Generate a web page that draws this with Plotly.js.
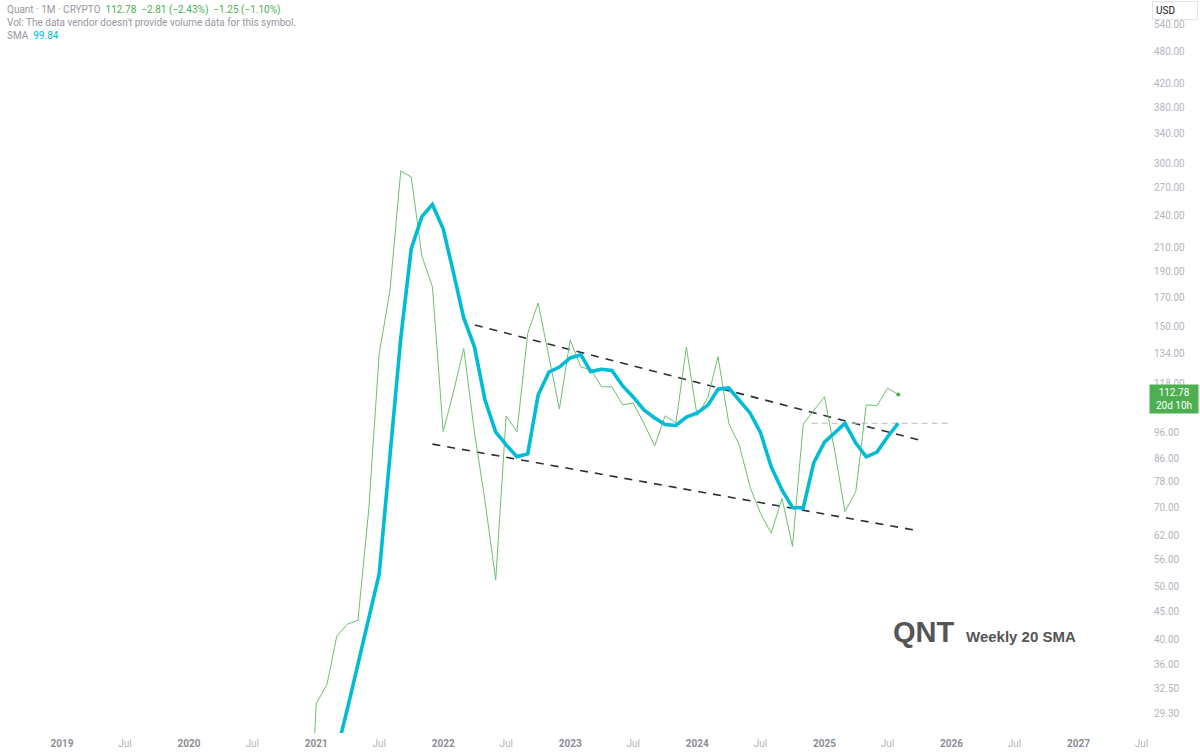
<!DOCTYPE html>
<html>
<head>
<meta charset="utf-8">
<script src="https://cdn.plot.ly/plotly-3.0.1.min.js"></script>
<style>
  html, body { margin: 0; padding: 0; background: #ffffff; }
  #chart { width: 1200px; height: 753px; }
</style>
</head>
<body>
<div id="chart"></div>
<script>
// ---------------- DATA ----------------
// Monthly close (green line), starting Dec 2020
const closeStart = [2020, 12];
const closeValues = [
  12, 30.5, 33.1, 40.6, 42.7, 43.4, 69.3, 134, 175, 290, 283, 202, 178,
  96.4, 115, 137, 96, 72, 51.5, 103, 96.3, 146, 166, 133, 106,
  142, 126.5, 125.4, 116.5, 116.5, 107.9, 108.8, 99.8, 90.7, 103, 100, 137.7,
  103, 111.4, 132.3, 99.8, 91.1, 76.3, 68.2, 62.7, 72.7, 59.3, 99.5, 105.6,
  111.7, 87.7, 68.7, 74.8, 107.9, 107.5, 115.8, 112.78
];
// SMA (cyan line), starting Feb 2021
const smaStart = [2021, 2];
const smaValues = [
  20, 24.9, 29.9, 36.1, 43.5, 52.8, 87, 143, 208.6, 239.4, 251.6,
  227.2, 186.9, 155.8, 137.8, 110.2, 96.2, 91.1, 86.7, 87.7, 112.5, 124, 126.6,
  131.6, 133.3, 124.2, 125.4, 124.8, 116.9, 111.6, 105.6, 102.1, 99.3, 98.9, 102.5,
  104.3, 107.8, 115.3, 115.9, 110.2, 104.3, 96.0, 83, 75.3, 69.9, 69.8, 84.4,
  92.2, 96.2, 99.8, 91.8, 86.6, 88.4, 94.2, 99.84
];
// Trend channel lines
const upperTrendDates = ['2022-04-02', '2025-10-12'];
const upperTrendValues = [151.3, 92.6];
const lowerTrendDates = ['2021-12-01', '2025-10-02'];
const lowerTrendValues = [91.4, 63.3];
// Horizontal gray dashed level (SMA value)
const smaLevelDates = ['2024-11-25', '2025-12-28'];
const smaLevelValues = [99.84, 99.84];
// Last price
const lastPrice = 112.78;
const lastSma = 99.84;
// Axis ticks
const yTickValues = [29.3, 32.5, 36, 40, 45, 50, 56, 62, 70, 78, 86, 96, 118, 134, 150, 170, 190, 210, 240, 270, 300, 340, 380, 420, 480, 540];
const xTickDates = ['2019-01-01','2019-07-01','2020-01-01','2020-07-01','2021-01-01','2021-07-01','2022-01-01','2022-07-01','2023-01-01','2023-07-01','2024-01-01','2024-07-01','2025-01-01','2025-07-01','2026-01-01','2026-07-01','2027-01-01','2027-07-01'];
const xTickLabels = ['2019','Jul','2020','Jul','2021','Jul','2022','Jul','2023','Jul','2024','Jul','2025','Jul','2026','Jul','2027','Jul'];

// ---------------- HELPERS ----------------
function monthDates(start, n) {
  const out = [];
  let y = start[0], m = start[1];
  for (let i = 0; i < n; i++) {
    out.push(y + '-' + String(m).padStart(2, '0') + '-01');
    m++; if (m > 12) { m = 1; y++; }
  }
  return out;
}
const closeDates = monthDates(closeStart, closeValues.length);
const smaDates = monthDates(smaStart, smaValues.length);

const PLOT_W = 1148, PLOT_H = 733;
const px = x => x / PLOT_W;
const py = y => 1 - y / PLOT_H;

const GREEN = '#4caf50';
const CYAN = '#00bcd4';
const GRAY = '#9598a1';

const traces = [
  { x: upperTrendDates, y: upperTrendValues, mode: 'lines', line: { color: '#2a2e39', width: 1.6, dash: '8px,7px' }, hoverinfo: 'skip' },
  { x: lowerTrendDates, y: lowerTrendValues, mode: 'lines', line: { color: '#2a2e39', width: 1.6, dash: '8px,7px' }, hoverinfo: 'skip' },
  { x: smaLevelDates, y: smaLevelValues, mode: 'lines', line: { color: '#b8bbc2', width: 1.2, dash: '6px,4px' }, hoverinfo: 'skip' },
  { x: closeDates, y: closeValues, mode: 'lines', line: { color: '#6cc070', width: 1 }, name: 'Close' },
  { x: smaDates, y: smaValues, mode: 'lines', line: { color: CYAN, width: 3.6 }, name: 'SMA' },
  { x: [closeDates[closeDates.length - 1]], y: [lastPrice], mode: 'markers', marker: { color: GREEN, size: 4 }, hoverinfo: 'skip' }
];

const ticktext = xTickLabels.map(t => t === 'Jul'
  ? '<span style="color:#b2b5be">' + t + '</span>'
  : '<span style="color:#8a8d96"><b>' + t + '</b></span>');

const layout = {
  width: 1200, height: 753,
  margin: { l: 0, r: 52, t: 0, b: 20 },
  paper_bgcolor: '#ffffff', plot_bgcolor: '#ffffff',
  showlegend: false,
  font: { family: 'Roboto, "Noto Sans", sans-serif', size: 10, color: '#b2b5be' },
  xaxis: {
    type: 'date', range: ['2018-07-07', '2027-07-20'],
    showgrid: false, zeroline: false, showline: false, ticks: '',
    tickmode: 'array', tickvals: xTickDates, ticktext: ticktext,
    tickfont: { size: 10, color: '#b2b5be' },
    ticklabelstandoff: 3
  },
  yaxis: {
    type: 'log', side: 'right', range: [1.4305, 2.7765],
    showgrid: false, zeroline: false, showline: false, ticks: '',
    tickmode: 'array', tickvals: yTickValues,
    ticktext: yTickValues.map(v => v.toFixed(2)),
    tickfont: { size: 10, color: '#b2b5be' },
    ticklabelstandoff: 5
  },
  shapes: [
    { type: 'line', xref: 'paper', x0: 0, x1: 1, yref: 'y', y0: Math.log10(lastPrice), y1: Math.log10(lastPrice),
      line: { color: GREEN, width: 1, dash: '1px,2px' } }
  ],
  annotations: [
    { xref: 'paper', yref: 'paper', x: px(5), y: py(10), xanchor: 'left', yanchor: 'middle', showarrow: false,
      font: { size: 10, color: GRAY },
      text: '<span style="color:#9598a1">Quant · 1M · CRYPTO</span>\u00a0\u00a0<span style="color:#4caf50">112.78\u00a0\u00a0−2.81 (−2.43%)\u00a0\u00a0−1.25 (−1.10%)</span>' },
    { xref: 'paper', yref: 'paper', x: px(5), y: py(23), xanchor: 'left', yanchor: 'middle', showarrow: false,
      font: { size: 10, color: GRAY },
      text: 'Vol: The data vendor doesn\'t provide volume data for this symbol.' },
    { xref: 'paper', yref: 'paper', x: px(5), y: py(36), xanchor: 'left', yanchor: 'middle', showarrow: false,
      font: { size: 10, color: GRAY },
      text: 'SMA\u00a0\u00a0<span style="color:#00bcd4">' + lastSma.toFixed(2) + '</span>' },
    { xref: 'paper', yref: 'paper', x: px(891), y: py(632), xanchor: 'left', yanchor: 'middle', showarrow: false,
      font: { size: 29, color: '#555555', family: '"Liberation Sans", Arial, sans-serif' },
      text: '<b>QNT</b>' },
    { xref: 'paper', yref: 'paper', x: px(964), y: py(636), xanchor: 'left', yanchor: 'middle', showarrow: false,
      font: { size: 15, color: '#555555', family: '"Liberation Sans", Arial, sans-serif' },
      text: '<b>Weekly 20 SMA</b>' },
    { xref: 'paper', yref: 'y', x: 1, y: Math.log10(lastPrice), xanchor: 'left', yanchor: 'middle', yshift: -5, xshift: 1,
      showarrow: false, bgcolor: GREEN, borderpad: 2, width: 44, align: 'center',
      font: { size: 10, color: '#ffffff' },
      text: lastPrice.toFixed(2) + '<br>20d 10h' },
    { xref: 'paper', yref: 'paper', x: 1, y: py(10), xanchor: 'left', yanchor: 'middle', xshift: 4,
      showarrow: false, bgcolor: '#ffffff', bordercolor: '#e0e3eb', borderwidth: 1, borderpad: 3, width: 38, align: 'left',
      font: { size: 10, color: '#131722' },
      text: 'USD' }
  ]
};

Plotly.newPlot('chart', traces, layout, { displayModeBar: false, staticPlot: true });
</script>
</body>
</html>
